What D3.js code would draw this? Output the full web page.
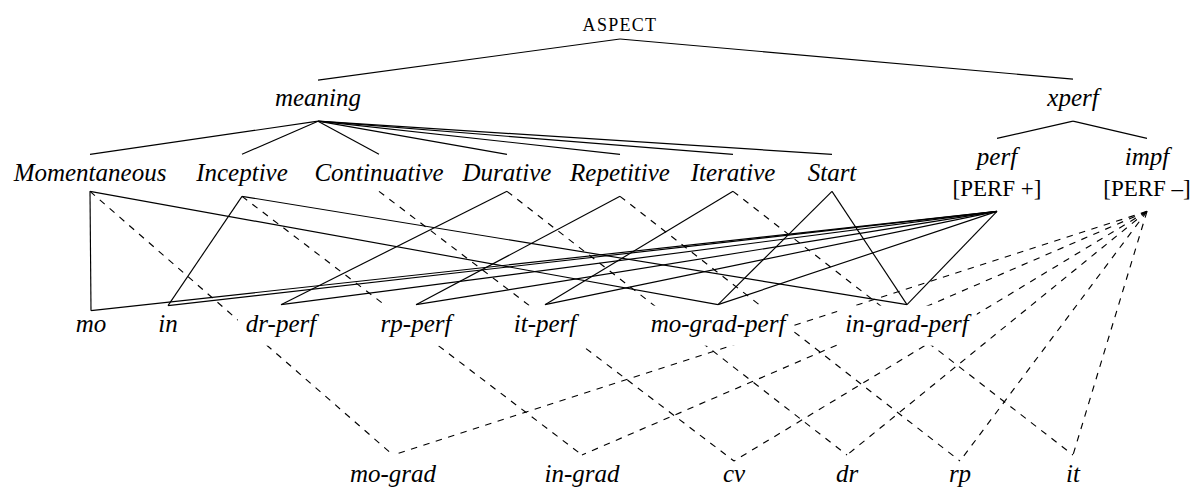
<!DOCTYPE html>
<html>
<head>
<meta charset="utf-8">
<script src="https://cdn.jsdelivr.net/npm/d3@7"></script>
<style>
	body { margin: 0; background: #fff; }
	svg { display: block; }
	.label { font-family: "Liberation Serif", "Times New Roman", serif; fill: #000; }
</style>
</head>
<body>
<svg id="chart"></svg>
<script>
(function(){
	///////////////////////////////////////////////////////////////////
	//// Data /////////////////////////////////////////////////////////
	///////////////////////////////////////////////////////////////////
	const nodeIds = ["aspect", "meaning", "xperf",
		"mom", "inc", "cont", "dur", "rep", "iter", "start", "perf", "impf",
		"mo", "in", "drPerf", "rpPerf", "itPerf", "moGradPerf", "inGradPerf",
		"moGrad", "inGrad", "cv", "dr", "rp", "it"];

	const nodeLabels = ["ASPECT", "meaning", "xperf",
		"Momentaneous", "Inceptive", "Continuative", "Durative", "Repetitive", "Iterative", "Start", "perf", "impf",
		"mo", "in", "dr-perf", "rp-perf", "it-perf", "mo-grad-perf", "in-grad-perf",
		"mo-grad", "in-grad", "cv", "dr", "rp", "it"];

	// second line under a label (feature value)
	const featureLabels = {perf: "[PERF +]", impf: "[PERF \u2013]"};

	// tree row of each node
	const nodeLevels = [0, 1, 1,
		2, 2, 2, 2, 2, 2, 2, 2, 2,
		4, 4, 4, 4, 4, 4, 4,
		6, 6, 6, 6, 6, 6];

	// horizontal column of each node
	const nodeCols = [620, 318, 1073,
		90, 242, 379, 507, 620, 733, 832, 997, 1147,
		91, 168, 281, 416, 545, 718, 907,
		393, 582, 734, 847, 960, 1073];

	const treeEdges = [
		["aspect", "meaning"], ["aspect", "xperf"],
		["meaning", "mom"], ["meaning", "inc"], ["meaning", "cont"], ["meaning", "dur"],
		["meaning", "rep"], ["meaning", "iter"], ["meaning", "start"],
		["xperf", "perf"], ["xperf", "impf"]
	];

	const perfEdges = [
		["mom", "mo"], ["mom", "moGradPerf"],
		["inc", "in"], ["inc", "inGradPerf"],
		["dur", "drPerf"], ["rep", "rpPerf"], ["iter", "itPerf"],
		["start", "moGradPerf"], ["start", "inGradPerf"],
		["perf", "mo"], ["perf", "in"], ["perf", "drPerf"], ["perf", "rpPerf"],
		["perf", "itPerf"], ["perf", "moGradPerf"], ["perf", "inGradPerf"]
	];

	const impfEdges = [
		["mom", "moGrad"], ["inc", "inGrad"], ["cont", "cv"],
		["dur", "dr"], ["rep", "rp"], ["iter", "it"],
		["impf", "moGrad"], ["impf", "inGrad"], ["impf", "cv"],
		["impf", "dr"], ["impf", "rp"], ["impf", "it"]
	];

	///////////////////////////////////////////////////////////////////
	//// Set up ///////////////////////////////////////////////////////
	///////////////////////////////////////////////////////////////////
	const width = 1194;
	const height = 489;
	const fontSize = 25;
	const smallSize = 18;
	const pad = 10;

	const x = d3.scaleLinear()
			.domain([0, 1194])
			.range([0, width]);

	// baseline of each row
	const y = d3.scaleLinear()
			.domain([0, 6])
			.range([31, 482]);

	const svg = d3.select("#chart")
			.attr("width", width)
			.attr("height", height);

	// glyph extents above / below baseline (px at 24px)
	function glyphTop(s) {
		if (/[A-Zbdfhklt\[\]]/.test(s)) return 17;
		if (/[ij]/.test(s)) return 16;
		return 11;
	}
	function glyphBottom(s) {
		return /[gjpqyf\[\]]/.test(s) ? 5 : 0;
	}

	const nodes = nodeIds.map((id, i) => {
		const small = id === "aspect";
		const label = nodeLabels[i];
		const feature = featureLabels[id];
		const base = feature ? y(nodeLevels[i]) - 16 : y(nodeLevels[i]);
		const lastBase = feature ? base + 31 : base;
		const last = feature || label;
		const p = small ? 8 : pad;
		return {
			id: id,
			label: label,
			feature: feature,
			size: small ? smallSize : fontSize,
			cx: x(nodeCols[i]),
			base: base,
			lastBase: lastBase,
			top: base - (small ? 12 : glyphTop(label)) - p,
			bottom: lastBase + glyphBottom(last) + p,
			pad: p
		};
	});
	const byId = new Map(nodes.map(d => [d.id, d]));

	///////////////////////////////////////////////////////////////////
	//// Edges ////////////////////////////////////////////////////////
	///////////////////////////////////////////////////////////////////
	const edgeG = svg.append("g").attr("class", "edges");

	function drawEdges(list, dashed) {
		edgeG.selectAll(null)
			.data(list)
			.enter().append("line")
				.attr("x1", d => byId.get(d[0]).cx)
				.attr("y1", d => byId.get(d[0]).bottom)
				.attr("x2", d => byId.get(d[1]).cx)
				.attr("y2", d => byId.get(d[1]).top)
				.style("stroke", "#000")
				.style("stroke-width", 1.15)
				.style("stroke-dasharray", dashed ? "6.5,6.5" : null);
	}

	drawEdges(treeEdges, false);
	drawEdges(perfEdges, false);
	drawEdges(impfEdges, true);

	///////////////////////////////////////////////////////////////////
	//// Nodes ////////////////////////////////////////////////////////
	///////////////////////////////////////////////////////////////////
	const nodeG = svg.append("g").attr("class", "nodes")
		.selectAll("g")
		.data(nodes)
		.enter().append("g");

	const mask = nodeG.append("rect")
			.style("fill", "#fff");

	nodeG.append("text")
			.attr("class", "label main")
			.attr("x", d => d.cx)
			.attr("y", d => d.base)
			.attr("text-anchor", "middle")
			.style("font-size", d => d.size + "px")
			.style("font-style", d => d.id === "aspect" ? "normal" : "italic")
			.style("letter-spacing", d => d.id === "aspect" ? "1.3px" : null)
			.text(d => d.label);

	nodeG.filter(d => d.feature)
		.append("text")
			.attr("class", "label feature")
			.attr("x", d => d.cx)
			.attr("y", d => d.lastBase)
			.attr("text-anchor", "middle")
			.style("font-size", "23px")
			.text(d => d.feature);

	// white box behind each node hides the lines that run under it
	mask.each(function(d) {
		const g = d3.select(this.parentNode);
		let w = 0;
		g.selectAll("text").each(function() {
			w = Math.max(w, this.getComputedTextLength());
		});
		d3.select(this)
			.attr("x", d.cx - w / 2 - d.pad + 2)
			.attr("y", d.top + 1)
			.attr("width", w + 2 * d.pad - 4)
			.attr("height", d.bottom - d.top - 2);
	});
}());
</script>
</body>
</html>
